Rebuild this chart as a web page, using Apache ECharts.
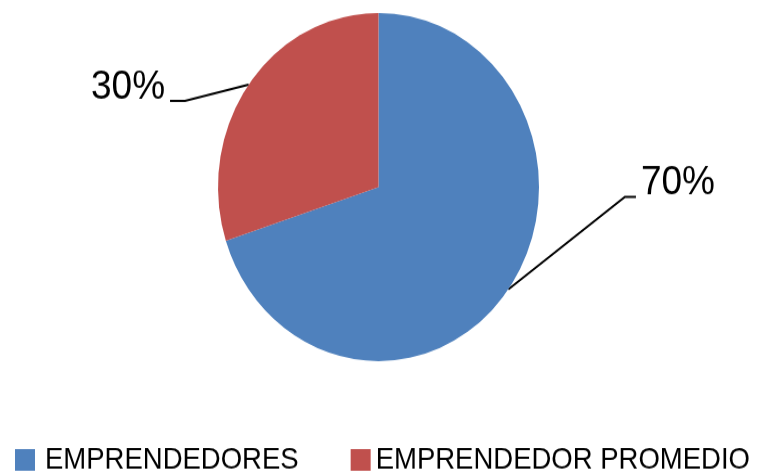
<!DOCTYPE html>
<html><head><meta charset="utf-8">
<script src="https://cdn.jsdelivr.net/npm/echarts@6/dist/echarts.min.js"></script>
<style>
html,body{margin:0;padding:0;background:#fff;overflow:hidden}
#wrap{width:758px;height:474px;overflow:hidden}
#c{width:758px;height:437px;transform:scaleY(1.0847);transform-origin:0 0}
</style></head><body>
<div id="wrap"><div id="c"></div></div>
<script>
const categories = ['EMPRENDEDORES', 'EMPRENDEDOR PROMEDIO'];
const values = [70, 30];
const colors = ['#4F81BD', '#C0504D'];

// leader-line geometry (offsets from the slice edge point), style only
const leader = [
  { bend: [116.6, -85.2], end: 11, side: 'left', textDy: -12.6 },
  { bend: [-63.6, 15.0], end: -15, side: 'right', textDy: -12 }
];

const chart = echarts.init(document.getElementById('c'), null, { renderer: 'canvas' });
chart.setOption({
  backgroundColor: '#ffffff',
  animation: false,
  color: colors,
  legend: {
    data: [
      { name: categories[0], textStyle: { padding: [0, 0, 0, 5] } },
      { name: categories[1] }
    ],
    left: 15,
    top: 410,
    padding: 0,
    itemWidth: 20,
    itemHeight: 20,
    itemGap: 52,
    icon: 'rect',
    textStyle: { fontFamily: 'Liberation Sans', fontSize: 27.5, color: '#000' }
  },
  series: [{
    type: 'pie',
    center: [378.5, 172.4],
    radius: 160.5,
    startAngle: 90,
    clockwise: true,
    itemStyle: { borderWidth: 0 },
    label: {
      show: true,
      formatter: '{c}%',
      fontFamily: 'Liberation Sans',
      fontSize: 37,
      color: '#000'
    },
    labelLine: {
      show: true,
      length: 20,
      length2: 10,
      smooth: false,
      lineStyle: { color: '#000', width: 2 }
    },
    labelLayout: function (p) {
      const L = leader[p.dataIndex];
      const p0 = p.labelLinePoints[0];
      const b = [p0[0] + L.bend[0], p0[1] + L.bend[1]];
      const e = [b[0] + L.end, b[1]];
      const gap = 5;
      return {
        x: L.side === 'left' ? e[0] + gap : e[0] - gap,
        y: e[1] + L.textDy,
        align: L.side,
        verticalAlign: 'middle',
        labelLinePoints: [p0, b, e]
      };
    },
    data: categories.map((n, i) => ({ name: n, value: values[i] }))
  }]
});
</script>
</body></html>
